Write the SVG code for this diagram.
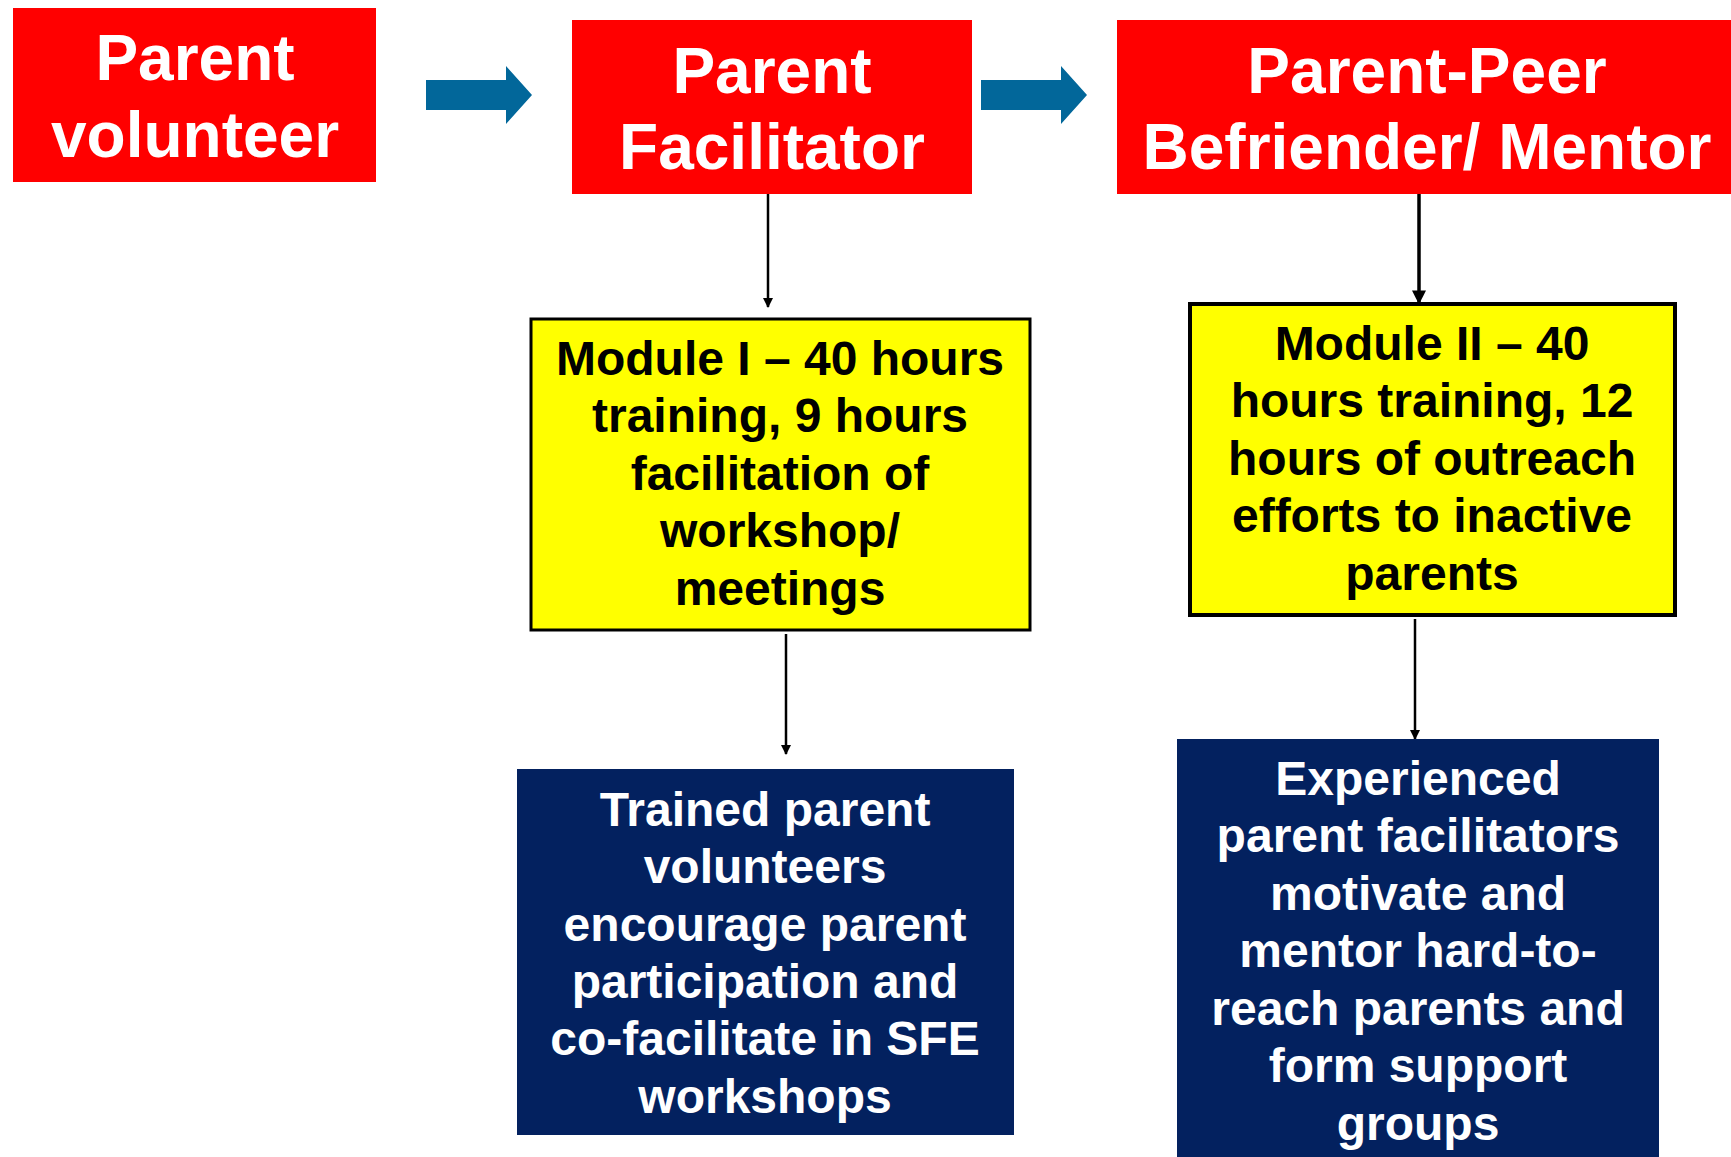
<svg xmlns="http://www.w3.org/2000/svg" width="1731" height="1157" viewBox="0 0 1731 1157">
<defs>
<style>
.red{fill:#ff0000}
.yel{fill:#ffff00;stroke:#000;stroke-width:3}
.navy{fill:#03215f}
.t{font-family:"Liberation Sans",Arial,Helvetica,sans-serif;font-weight:bold;text-anchor:middle}
.big{font-size:64px;fill:#fff}
.mid{font-size:48px}
.blk{fill:#000}
.wht{fill:#fff}
.blue{fill:#02679a}
.ln{stroke:#000;stroke-width:2.5;fill:none}
</style>
<marker id="ah" viewBox="0 0 10 10" refX="9" refY="5" markerWidth="4" markerHeight="4" orient="auto" markerUnits="strokeWidth">
<path d="M0,0 L10,5 L0,10 z" fill="#000"/>
</marker>
</defs>
<rect width="1731" height="1157" fill="#fff"/>

<g id="connectors">
<path class="blue" d="M426,80 H506 V66 L532,95 L506,124 V110 H426 Z"/>
<path class="blue" d="M981,80 H1061 V66 L1087,95 L1061,124 V110 H981 Z"/>
<line class="ln" x1="768" y1="188" x2="768" y2="307" marker-end="url(#ah)"/>
<line class="ln" x1="1419" y1="185" x2="1419" y2="303" style="stroke-width:3.5" marker-end="url(#ah)"/>
<line class="ln" x1="786" y1="634" x2="786" y2="754" marker-end="url(#ah)"/>
<line class="ln" x1="1415" y1="619" x2="1415" y2="739" marker-end="url(#ah)"/>
</g>

<g id="parent-volunteer">
<rect class="red" x="13" y="8" width="363" height="174"/>
<text class="t big" x="195" y="80">Parent</text>
<text class="t big" x="195" y="157">volunteer</text>
</g>

<g id="parent-facilitator">
<rect class="red" x="572" y="20" width="400" height="174"/>
<text class="t big" x="772" y="93">Parent</text>
<text class="t big" x="772" y="169">Facilitator</text>
</g>

<g id="parent-peer">
<rect class="red" x="1117" y="20" width="614" height="174"/>
<text class="t big" x="1427" y="93">Parent-Peer</text>
<text class="t big" x="1427" y="169">Befriender/ Mentor</text>
</g>

<g id="module-1">
<rect class="yel" x="531" y="319" width="499" height="311"/>
<text class="t mid blk" x="780" y="375">Module I – 40 hours</text>
<text class="t mid blk" x="780" y="432">training, 9 hours</text>
<text class="t mid blk" x="780" y="490">facilitation of</text>
<text class="t mid blk" x="780" y="547">workshop/</text>
<text class="t mid blk" x="780" y="605">meetings</text>
</g>

<g id="module-2">
<rect class="yel" x="1190" y="304" width="485" height="311" style="stroke-width:4"/>
<text class="t mid blk" x="1432" y="360">Module II – 40</text>
<text class="t mid blk" x="1432" y="417">hours training, 12</text>
<text class="t mid blk" x="1432" y="475">hours of outreach</text>
<text class="t mid blk" x="1432" y="532">efforts to inactive</text>
<text class="t mid blk" x="1432" y="590">parents</text>
</g>

<g id="trained">
<rect class="navy" x="517" y="769" width="497" height="366"/>
<text class="t mid wht" x="765" y="826">Trained parent</text>
<text class="t mid wht" x="765" y="883">volunteers</text>
<text class="t mid wht" x="765" y="941">encourage parent</text>
<text class="t mid wht" x="765" y="998">participation and</text>
<text class="t mid wht" x="765" y="1055">co-facilitate in SFE</text>
<text class="t mid wht" x="765" y="1113">workshops</text>
</g>

<g id="experienced">
<rect class="navy" x="1177" y="739" width="482" height="418"/>
<text class="t mid wht" x="1418" y="795">Experienced</text>
<text class="t mid wht" x="1418" y="852">parent facilitators</text>
<text class="t mid wht" x="1418" y="910">motivate and</text>
<text class="t mid wht" x="1418" y="967">mentor hard-to-</text>
<text class="t mid wht" x="1418" y="1025">reach parents and</text>
<text class="t mid wht" x="1418" y="1082">form support</text>
<text class="t mid wht" x="1418" y="1140">groups</text>
</g>
</svg>
